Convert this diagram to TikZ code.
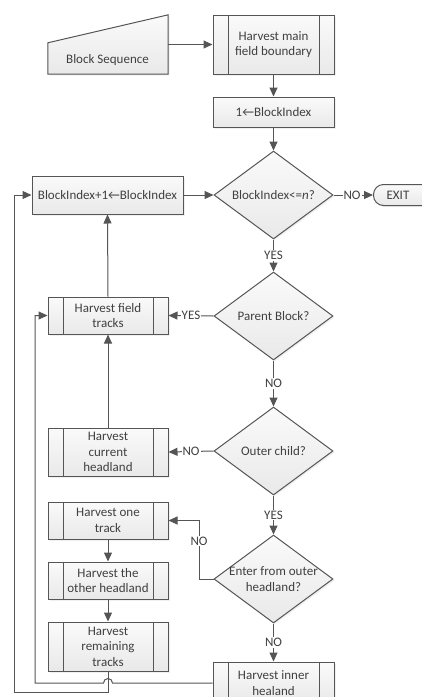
\documentclass[tikz,border=0pt]{standalone}
\usepackage{fontspec}
\setmainfont{Carlito}
\usetikzlibrary{shapes.geometric,arrows.meta,calc,shadows}
\definecolor{ln}{HTML}{555555}
\definecolor{tx}{HTML}{404040}
\definecolor{ftop}{HTML}{FAFAFA}
\definecolor{fbot}{HTML}{E9E9E9}
\tikzset{
  x=1pt, y=1pt,
  txt/.style={text=tx, font=\fontsize{13}{15.5}\selectfont, align=center, inner sep=0pt},
  filled/.style={draw=ln, line width=1pt, top color=ftop, bottom color=fbot,
     drop shadow={opacity=0.12, shadow xshift=1.5pt, shadow yshift=-1.5pt}},
  plainbox/.style={filled, rectangle, txt, minimum width=121pt},
  procbox/.style={filled, rectangle, txt, minimum width=#1,
     path picture={
       \draw[ln, line width=1pt] ([xshift=15pt]path picture bounding box.north west) -- ([xshift=15pt]path picture bounding box.south west);
       \draw[ln, line width=1pt] ([xshift=-15pt]path picture bounding box.north east) -- ([xshift=-15pt]path picture bounding box.south east);
     }},
  procbox/.default=120pt,
  decision/.style={filled, diamond, minimum width=119pt, minimum height=88pt, aspect=1.35, inner sep=0pt},
  arr/.style={draw=ln, line width=1pt, -{Triangle[length=9pt,width=8pt]}},
  conn/.style={draw=ln, line width=1pt},
  lbl/.style={txt, fill=white, inner sep=1pt},
}
\begin{document}
\begin{tikzpicture}
\useasboundingbox (0,0) rectangle (422,-697);
% Block sequence (manual input)
\node[minimum width=120pt, minimum height=59pt, inner sep=0pt] (bseq) at (108,-44.5) {};
\draw[filled] (bseq.south west) -- (bseq.south east) -- (bseq.north east) -- ($(bseq.north west)+(0,-28)$) -- cycle;
\node[txt] (bseqtxt) at (107.5,-60) {Block Sequence};

\node[procbox=121pt, minimum height=59pt] (hmf) at (273.5,-44.5) {Harvest main\\field boundary};
\node[plainbox, minimum height=30pt] (bi1) at (273.5,-112) {1←BlockIndex};
\node[decision, label={[txt]center:BlockIndex<=\textit{n}?}] (d1) at (273.5,-195) {};
\node[plainbox, minimum width=151pt, minimum height=38pt] (binc) at (107.5,-195) {BlockIndex+1←BlockIndex};
\node[filled, rounded corners=10pt, minimum width=66pt, minimum height=21pt, anchor=west] (exit) at (373,-195) {};
\node[txt] (exittxt) at (398,-195) {EXIT};

\node[decision, label={[txt]center:Parent Block?}] (d2) at (273.5,-316) {};
\node[procbox, minimum height=37pt] (hft) at (108,-315.5) {Harvest field\\tracks};
\node[decision, label={[txt]center:Outer child?}] (d3) at (273.5,-451) {};
\node[procbox, minimum height=48pt] (hch) at (108,-452) {Harvest\\current\\headland};
\node[decision, label={[txt]center:Enter from outer\\headland?}] (d4) at (273.5,-579) {};
\node[procbox, minimum height=37pt] (hot) at (108,-520.5) {Harvest one\\track};
\node[procbox, minimum height=37pt] (hoh) at (108,-580.5) {Harvest the\\other headland};
\node[procbox, minimum height=49pt] (hrt) at (108,-646.5) {Harvest\\remaining\\tracks};
\node[procbox=121pt, minimum height=42pt] (hih) at (273.5,-683) {Harvest inner\\healand};

% connectors
\draw[arr] (bseq.east) -- (hmf.west);
\draw[arr] (hmf.south) -- (bi1.north);
\draw[arr] (bi1.south) -- (d1.north);
\draw[arr] (binc.east) -- (d1.west);
\draw[arr] (d1.east) -- node[lbl, pos=0.47] (l1) {NO} (exit.west);
\draw[arr] (d1.south) -- node[lbl] (l2) {YES} (d2.north);
\draw[arr] (d2.west) -- node[lbl] (l3) {YES} (hft.east);
\draw[arr] (d2.south) -- node[lbl] (l4) {NO} (d3.north);
\draw[arr] (d3.west) -- node[lbl] (l5) {NO} (hch.east);
\draw[arr] (d3.south) -- node[lbl] (l6) {YES} (d4.north);
\draw[arr] (d4.west) -- (199,-579) -- node[lbl, pos=0.65] (l7) {NO} (199,-520.5) -- (hot.east);
\draw[arr] (d4.south) -- node[lbl] (l8) {NO} (hih.north);
\draw[arr] (hch.north) -- (hft.south);
\draw[arr] (hft.north) -- (binc.south);
\draw[arr] (hot.south) -- (hoh.north);
\draw[arr] (hoh.south) -- (hrt.north);
\draw[arr] (hrt.south) -- (108,-692) -- (14,-692) |- (binc.west);
\draw[arr] (hih.west) -- (112.5,-683) arc[start angle=0, end angle=180, radius=4.5] -- (35,-683) |- (hft.west);
\end{tikzpicture}
\end{document}
